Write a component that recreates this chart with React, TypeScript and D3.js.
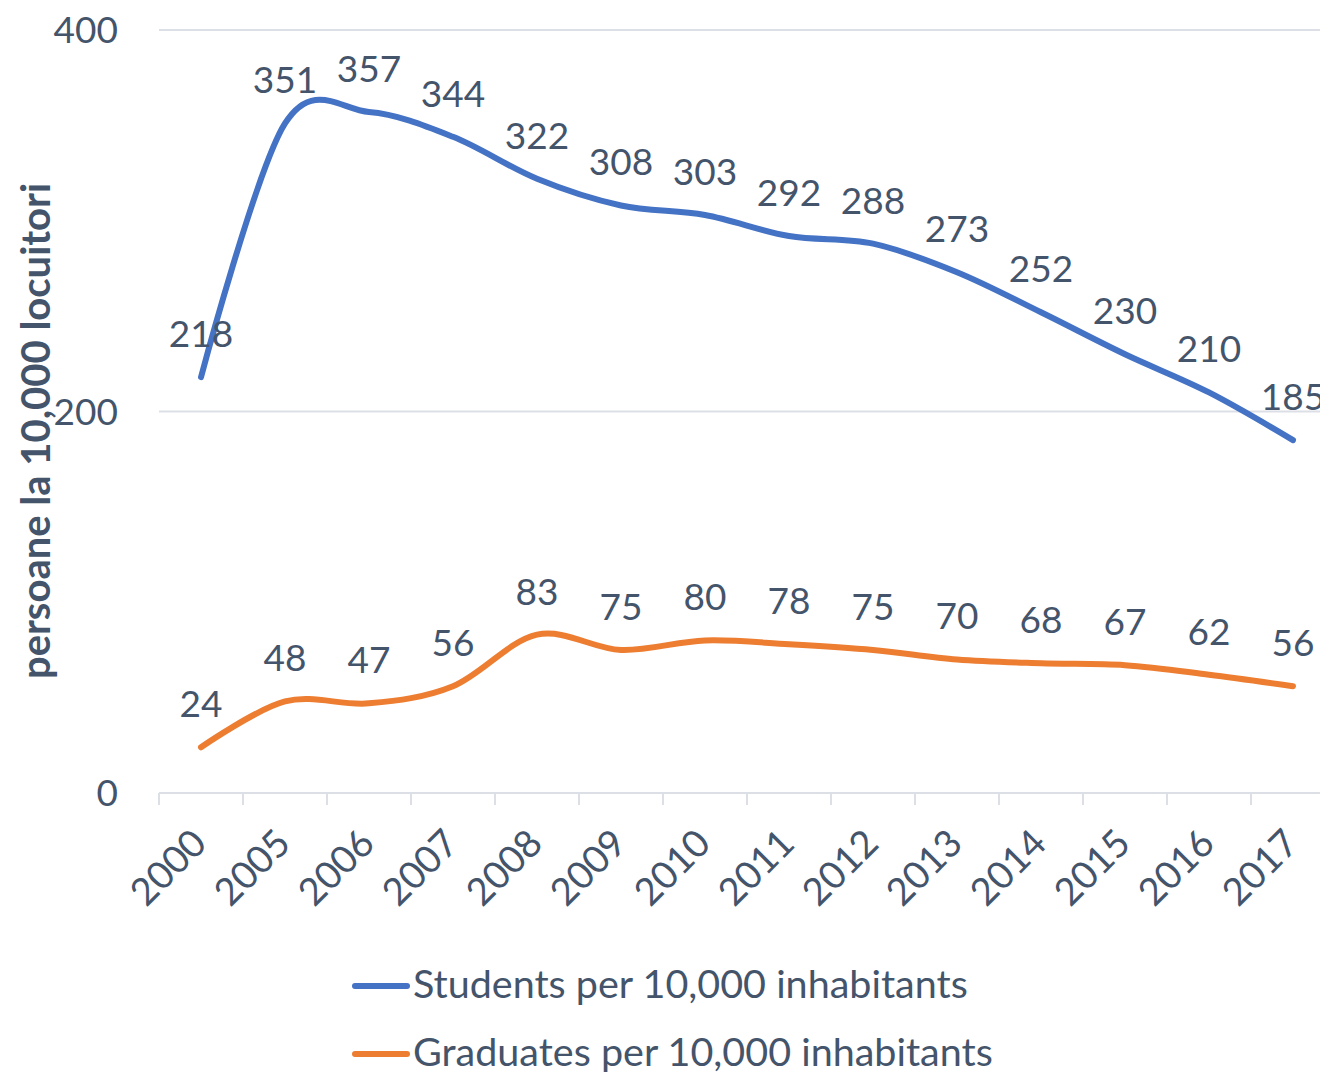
import React, { useEffect, useRef } from 'react'
import * as d3 from 'd3'

const years = ['2000', '2005', '2006', '2007', '2008', '2009', '2010', '2011', '2012', '2013', '2014', '2015', '2016', '2017']
const students = [218, 351, 357, 344, 322, 308, 303, 292, 288, 273, 252, 230, 210, 185]
const graduates = [24, 48, 47, 56, 83, 75, 80, 78, 75, 70, 68, 67, 62, 56]
const yTicks = [0, 200, 400]
const seriesNames = ['Students per 10,000 inhabitants', 'Graduates per 10,000 inhabitants']
const seriesColors = ['#4472C4', '#ED7D31']
const yTitle = 'persoane la 10,000 locuitori'

export default function App() {
    const ref = useRef<HTMLDivElement>(null)

    useEffect(() => {
        // no page margin, no scrollbars
        document.body.style.margin = '0'
        document.body.style.overflow = 'hidden'

        const container = d3.select(ref.current)
        container.selectAll('*').remove()

        const width = 1320, height = 1072
        const textColor = '#44546A'
        const gridColor = '#DCE0E6'
        const font = 'Lato, "Open Sans", sans-serif'

        const svg = container.append('svg')
            .attr('width', width)
            .attr('height', height)
            .style('display', 'block')
            .style('font-family', font)

        // plot area runs past the right edge, as in the original
        const x = d3.scaleBand().domain(years).range([159, 1335])
        const y = d3.scaleLinear().domain([0, 400]).range([793, 30])

        // gridlines
        svg.append('g').selectAll('line')
            .data(yTicks.filter(d => d > 0))
            .join('line')
            .attr('x1', 159).attr('x2', width)
            .attr('y1', d => y(d)).attr('y2', d => y(d))
            .attr('stroke', gridColor).attr('stroke-width', 2)

        // y tick labels
        svg.append('g').selectAll('text')
            .data(yTicks)
            .join('text')
            .attr('x', 118)
            .attr('y', d => y(d))
            .attr('dy', '0.36em')
            .attr('text-anchor', 'end')
            .attr('fill', textColor)
            .style('font-size', '37px')
            .text(d => d)

        // x axis line + ticks at category boundaries
        svg.append('line')
            .attr('x1', 159).attr('x2', width)
            .attr('y1', y(0)).attr('y2', y(0))
            .attr('stroke', gridColor).attr('stroke-width', 2)
        svg.append('g').selectAll('line')
            .data(years)
            .join('line')
            .attr('x1', d => x(d)!).attr('x2', d => x(d)!)
            .attr('y1', y(0)).attr('y2', y(0) + 12)
            .attr('stroke', gridColor).attr('stroke-width', 2)

        // x labels, rotated
        svg.append('g').selectAll('text')
            .data(years)
            .join('text')
            .attr('transform', d => 'translate(' + (x(d)! + x.bandwidth() / 2 - 2) + ',' + 836 + ') rotate(-45)')
            .attr('text-anchor', 'end')
            .attr('dy', '0.36em')
            .attr('fill', textColor)
            .style('font-size', '38px')
            .text(d => d)

        // y axis title
        svg.append('text')
            .attr('transform', 'translate(50,431) rotate(-90)')
            .attr('text-anchor', 'middle')
            .attr('fill', textColor)
            .style('font-size', '40px')
            .style('font-weight', 'bold')
            .text(yTitle)

        const line = d3.line<number>()
            .x((d, i) => x(years[i])! + x.bandwidth() / 2)
            .y(d => y(d))
            .curve(d3.curveCardinal.tension(0))

        const allSeries = [students, graduates]
        allSeries.forEach((vals, s) => {
            svg.append('path')
                .datum(vals)
                .attr('d', line)
                .attr('fill', 'none')
                .attr('stroke', seriesColors[s])
                .attr('stroke-width', 6)
                .attr('stroke-linecap', 'round')
                .attr('stroke-linejoin', 'round')

            svg.append('g').selectAll('text')
                .data(vals)
                .join('text')
                .attr('x', (d, i) => x(years[i])! + x.bandwidth() / 2)
                .attr('y', d => y(d) - 30)
                .attr('text-anchor', 'middle')
                .attr('fill', textColor)
                .style('font-size', '37px')
                .text(d => d)
        })

        // legend
        const legendY = [986, 1054]
        seriesNames.forEach((name, s) => {
            svg.append('line')
                .attr('x1', 355).attr('x2', 407)
                .attr('y1', legendY[s]).attr('y2', legendY[s])
                .attr('stroke', seriesColors[s])
                .attr('stroke-width', 6)
                .attr('stroke-linecap', 'round')
            svg.append('text')
                .attr('x', 413)
                .attr('y', legendY[s] + 12)
                .attr('fill', textColor)
                .style('font-size', '39.5px')
                .text(name)
        })
    }, [])

    return (
        <div ref={ref} />
    )
}
